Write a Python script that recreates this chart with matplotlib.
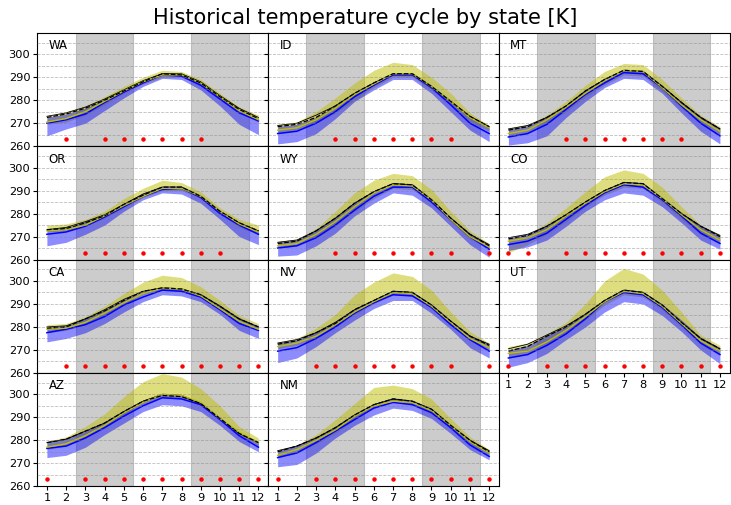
import numpy as np
import matplotlib.pyplot as plt
from matplotlib.ticker import MultipleLocator

states = ["WA", "ID", "MT", "OR", "WY", "CO", "CA", "NV", "UT", "AZ", "NM"]
months = np.arange(1, 13)

# observed cycle (black dashed) and second obs set (thin black)
obs = {
    "WA": [272.5, 274, 276.5, 280, 284, 288, 291.5, 291, 287.5, 281.5, 276, 272],
    "ID": [268.5, 269.5, 272.5, 277.5, 283, 287.5, 291.5, 291.5, 286, 279.5, 273, 268.5],
    "MT": [267, 268.5, 272.5, 277.5, 284, 289, 293, 292.5, 286, 279, 272.5, 267.5],
    "OR": [273, 273.5, 276, 279, 284, 288, 291.5, 291.5, 287.5, 281, 276, 272.5],
    "WY": [267, 268, 272.5, 278, 284.5, 289.5, 293, 292.5, 286, 278, 271, 266],
    "CO": [269, 270.5, 274.5, 279.5, 285, 290, 293.5, 293, 286.5, 280, 274.5, 270],
    "CA": [279.5, 280, 283.5, 287, 291.5, 295.5, 297, 296.5, 294, 289, 283.5, 280],
    "NV": [272.5, 274, 277.5, 281.5, 287.5, 291.5, 295.5, 295, 289.5, 282.5, 276, 272],
    "UT": [269.5, 271.5, 276, 280, 285.5, 291.5, 296, 295, 289.5, 282, 275, 270.5],
    "AZ": [279, 280.5, 284, 287.5, 292.5, 297, 299.5, 299, 296, 289.5, 283, 279],
    "NM": [275, 277.5, 281, 285.5, 291, 295.5, 298, 297, 293.5, 286.5, 280, 275],
}
obs2 = {
    "WA": [273, 274.5, 277, 280.5, 284.5, 288.5, 291.5, 291.5, 288, 282, 276.5, 272.5],
    "ID": [269, 270, 273.5, 277.5, 283, 287.5, 291.5, 291.5, 286, 279.5, 273, 268.5],
    "MT": [267.5, 269, 272.5, 277.5, 284, 289, 293, 292.5, 286, 279, 272.5, 267.5],
    "OR": [273, 274, 276.5, 279.5, 284, 288.5, 291.5, 291.5, 287.5, 281, 276, 272.5],
    "WY": [267.5, 268.5, 272.5, 278, 284.5, 289.5, 293, 292.5, 286, 278, 271, 266.5],
    "CO": [269.5, 271, 274.5, 279.5, 285, 290, 293.5, 293, 286.5, 280, 274.5, 270.5],
    "CA": [280, 280.5, 283.5, 287.5, 292, 295.5, 297, 296.5, 294, 289, 283.5, 280],
    "NV": [273, 274.5, 277.5, 282, 287.5, 291.5, 295.5, 295, 289.5, 282.5, 276, 272.5],
    "UT": [270.5, 272.5, 276.5, 280.5, 285.5, 291.5, 296, 295, 289.5, 282, 275, 270.5],
    "AZ": [279, 280.5, 284, 287.5, 292.5, 297, 300, 299.5, 296, 289.5, 283, 279],
    "NM": [275.5, 277.5, 281, 285.5, 291, 295.5, 298, 297, 293.5, 286.5, 280, 275.5],
}

# model A (blue): mean, low, high
blue = {
    "WA": [270, 271.5, 274, 279, 283.5, 287.5, 291, 290.5, 286.5, 280.5, 274.5, 271],
    "ID": [265.5, 266.5, 270, 275, 281.5, 286.5, 291, 291, 285.5, 278, 270, 265.5],
    "MT": [264, 265.5, 269.5, 276, 282.5, 287.5, 292, 291.5, 285.5, 277.5, 270, 264.5],
    "OR": [271, 272, 274.5, 278.5, 283, 287.5, 290.5, 291, 287, 280, 275, 271],
    "WY": [265, 266, 269.5, 275, 281.5, 287.5, 291.5, 291.5, 285, 277.5, 270, 264.5],
    "CO": [266.5, 268, 271.5, 277.5, 283.5, 289, 292.5, 291.5, 286, 279, 271.5, 267],
    "CA": [277.5, 279, 281, 284.5, 289.5, 293, 296, 295.5, 293, 287.5, 281.5, 278.5],
    "NV": [269.5, 271, 275, 280, 286, 290.5, 294, 293.5, 288.5, 281, 274.5, 269.5],
    "UT": [266.5, 268, 272, 277, 283.5, 291, 295, 294, 288.5, 281, 273, 268],
    "AZ": [276.5, 277.5, 281, 285.5, 290.5, 295, 298.5, 298, 295.5, 289, 282, 277],
    "NM": [272.5, 274.5, 279, 284, 289, 294, 296.5, 295.5, 292, 285.5, 278, 273],
}
blue_lo = {
    "WA": [264.5, 267.5, 270, 275.5, 281, 286, 289.5, 289, 284.5, 277.5, 269.5, 265],
    "ID": [261, 262, 265.5, 272, 279.5, 284.5, 289, 289, 283, 275, 267, 262],
    "MT": [260.5, 261.5, 264.5, 272.5, 279.5, 285.5, 289.5, 289, 283, 274.5, 266.5, 261],
    "OR": [266, 267.5, 271, 275, 281, 286, 289, 288.5, 284.5, 277.5, 270, 266.5],
    "WY": [261.5, 262, 266, 271.5, 279, 284.5, 289, 288, 282.5, 274.5, 266.5, 261],
    "CO": [264, 265.5, 268.5, 274.5, 281, 286, 289, 288, 283, 276, 268.5, 264.5],
    "CA": [273.5, 275, 277.5, 281.5, 286.5, 291, 294, 293.5, 291, 285.5, 278.5, 275],
    "NV": [264.5, 266.5, 271.5, 277.5, 283, 288, 291.5, 291.5, 286, 279, 271, 266.5],
    "UT": [262.5, 264.5, 268.5, 274.5, 280, 286.5, 291, 290, 285, 278, 270, 264],
    "AZ": [272.5, 273.5, 277, 282.5, 287.5, 292.5, 295.5, 295, 292.5, 286.5, 279.5, 275],
    "NM": [268.5, 269.5, 274.5, 281, 286.5, 291, 294, 293, 289.5, 283, 276, 271.5],
}
blue_hi = {
    "WA": [272.5, 274, 276.5, 280.5, 284.5, 288.5, 292, 291.5, 288, 282, 276, 272],
    "ID": [268.5, 269.5, 272.5, 277.5, 283, 288, 292, 292, 286.5, 280, 273, 268.5],
    "MT": [267.5, 269, 273, 278, 284.5, 289.5, 293.5, 293, 286.5, 279.5, 273, 268],
    "OR": [273, 274, 276.5, 279.5, 284.5, 289, 292, 292, 288, 281.5, 276, 272.5],
    "WY": [267.5, 268.5, 273, 278.5, 285, 290, 293.5, 293, 286.5, 278.5, 271.5, 266.5],
    "CO": [269.5, 271, 275, 280, 285.5, 290.5, 294, 293.5, 287, 280.5, 275, 270.5],
    "CA": [280, 280.5, 284, 287.5, 292, 295.5, 297.5, 297, 294.5, 289.5, 284, 280.5],
    "NV": [273, 274.5, 278, 282.5, 288, 292, 296, 295.5, 290, 283, 276.5, 272.5],
    "UT": [270, 272, 276.5, 280.5, 286, 292, 296.5, 295.5, 290, 283, 275.5, 271],
    "AZ": [279, 281, 284, 288, 293, 297.5, 300.5, 300, 296.5, 290, 283.5, 279.5],
    "NM": [275.5, 278, 281.5, 286, 291.5, 296, 298.5, 297.5, 294, 287, 280.5, 275.5],
}

# model B (yellow): mean, low, high
yel = {
    "WA": [270.5, 272, 275, 279.5, 284, 288, 291, 291, 287.5, 281.5, 275.5, 271.5],
    "ID": [267, 268, 271.5, 276.5, 282.5, 287, 291.5, 291.5, 286, 279.5, 272.5, 268],
    "MT": [265.5, 267, 271.5, 277, 283, 288.5, 293, 292.5, 285.5, 278, 271.5, 266.5],
    "OR": [272.5, 273, 275, 279, 283.5, 287.5, 291, 291, 287.5, 281, 275.5, 272],
    "WY": [266, 267, 271, 276.5, 283, 289, 292.5, 292, 286, 277.5, 270, 265.5],
    "CO": [268, 269.5, 273, 279, 284.5, 289.5, 293, 292.5, 286.5, 279.5, 273, 268.5],
    "CA": [279, 279.5, 282, 286, 290.5, 294.5, 297, 296.5, 293.5, 288, 282.5, 279],
    "NV": [271.5, 273, 276, 281, 286.5, 291, 295, 294.5, 289, 282, 275, 271],
    "UT": [268.5, 269.5, 273.5, 278.5, 284.5, 291, 295.5, 294.5, 289, 281.5, 274, 269.5],
    "AZ": [277, 278.5, 282, 286.5, 292, 296.5, 300, 299.5, 296.5, 289.5, 283.5, 279],
    "NM": [273.5, 276, 280, 284.5, 290.5, 295, 297, 296.5, 293, 286.5, 279.5, 274.5],
}
yel_lo = {
    "WA": [269.5, 270.5, 273.5, 278, 283, 287, 290, 290, 286.5, 280.5, 274.5, 270.5],
    "ID": [265.5, 267, 270, 274.5, 280, 285.5, 290, 290, 284.5, 278, 270.5, 266.5],
    "MT": [264.5, 266, 270, 275, 281.5, 286.5, 291, 290.5, 284, 276.5, 270, 265],
    "OR": [272, 272.5, 274.5, 278, 282.5, 287, 290, 290, 286.5, 280, 274, 271],
    "WY": [265, 266, 269.5, 274.5, 281, 286.5, 291, 290.5, 284.5, 276.5, 269, 264.5],
    "CO": [263, 266.5, 271, 276.5, 283, 288, 291.5, 291, 285, 277.5, 271, 267],
    "CA": [277.5, 278.5, 281, 285, 289.5, 294, 296, 295.5, 293, 287.5, 281.5, 278.5],
    "NV": [270.5, 272, 275, 280, 285.5, 290, 294, 293.5, 288, 281, 274, 270],
    "UT": [267, 268, 272, 277, 283, 289.5, 294, 293, 287.5, 280, 272.5, 268],
    "AZ": [276, 277.5, 281, 285.5, 290.5, 295.5, 298.5, 298, 295.5, 289, 282.5, 277.5],
    "NM": [272.5, 274.5, 278.5, 283, 289, 294, 296.5, 295.5, 291.5, 285.5, 278.5, 273.5],
}
yel_hi = {
    "WA": [273, 275, 277.5, 281.5, 286, 290, 293, 292.5, 289, 283, 277, 273.5],
    "ID": [269.5, 270.5, 275, 281, 287.5, 293, 296.5, 295.5, 290, 283, 274.5, 269],
    "MT": [268, 269.5, 273.5, 279.5, 286.5, 292.5, 296, 295.5, 289, 281, 273.5, 268.5],
    "OR": [275, 275.5, 277.5, 281, 286.5, 291, 294.5, 293.5, 289.5, 282.5, 277.5, 275],
    "WY": [268, 269, 273.5, 281, 289, 294.5, 297.5, 296.5, 290.5, 281, 272.5, 267],
    "CO": [269.5, 271, 276, 282.5, 289.5, 296, 299, 297.5, 291.5, 283, 275, 271],
    "CA": [281, 281.5, 284.5, 289, 294.5, 299.5, 302.5, 301.5, 297.5, 291.5, 285, 281.5],
    "NV": [273.5, 275, 279.5, 285.5, 294, 299.5, 303.5, 302, 296, 286.5, 278, 273],
    "UT": [271.5, 273, 277, 282, 290, 300, 305.5, 303, 296, 286.5, 276.5, 272],
    "AZ": [279.5, 281.5, 286, 291.5, 299, 305.5, 309, 307.5, 302.5, 295, 286, 281],
    "NM": [275.5, 278, 282.5, 289, 296, 303, 304, 302.5, 298, 289.5, 281.5, 276],
}

# months flagged with a red dot
flagged = {
    "WA": [2, 4, 5, 6, 7, 8, 9],
    "ID": [4, 5, 6, 7, 8, 9, 10],
    "MT": [4, 5, 6, 7, 8, 9, 10],
    "OR": [3, 4, 5, 6, 7, 8, 9, 10],
    "WY": [4, 5, 6, 7, 8, 9, 10, 12],
    "CO": [1, 2, 4, 5, 6, 7, 8, 9, 10, 11, 12],
    "CA": [2, 3, 4, 5, 6, 7, 8, 9, 10, 11, 12],
    "NV": [3, 4, 5, 6, 7, 8, 9, 10, 12],
    "UT": [1, 3, 4, 5, 6, 7, 8, 9, 10, 11, 12],
    "AZ": [1, 3, 4, 5, 6, 7, 8, 9, 10, 11, 12],
    "NM": [1, 3, 4, 5, 6, 7, 8, 9, 10, 11, 12],
}

fig, axes = plt.subplots(4, 3, figsize=(7.31, 5.05), dpi=100, sharex=True, sharey=True)
fig.subplots_adjust(left=0.051, right=0.998, top=0.935, bottom=0.037, hspace=0, wspace=0)

for ax, st in zip(axes.flat, states):
    ax.axvspan(2.5, 5.5, color="gray", alpha=0.4, lw=0.8)
    ax.axvspan(8.5, 11.5, color="gray", alpha=0.4, lw=0.8)
    ax.fill_between(months, yel_lo[st], yel_hi[st], color="y", alpha=0.5, lw=0)
    ax.fill_between(months, blue_lo[st], blue_hi[st], color="blue", alpha=0.45, lw=0)
    ax.plot(months, obs2[st], color="k", lw=0.6)
    ax.plot(months, blue[st], color="blue", lw=1.1)
    ax.plot(months, yel[st], color="y", lw=1.0)
    ax.plot(months, obs[st], color="k", lw=0.9, ls="--")
    ax.plot(flagged[st], [263] * len(flagged[st]), "o", color="red", ms=2.2)
    ax.text(0.05, 0.885, st, transform=ax.transAxes, va="center", fontsize=8.5)
    ax.yaxis.set_major_locator(MultipleLocator(10))
    ax.yaxis.set_minor_locator(MultipleLocator(5))
    ax.grid(axis="y", which="both", ls="--", color="gray", alpha=0.5, lw=0.6)
    ax.set_axisbelow(False)
    ax.tick_params(labelsize=8.2, length=3, pad=2)
    ax.tick_params(which="minor", length=0)

axes[3, 2].remove()
axes[2, 2].tick_params(labelbottom=True)
axes[0, 0].set_xlim(0.5, 12.5)
axes[0, 0].set_ylim(260, 309.3)
axes[0, 0].set_xticks(months)
axes[0, 0].set_yticks([260, 270, 280, 290, 300])

fig.suptitle("Historical temperature cycle by state [K]", fontsize=15, y=0.985)
plt.savefig("out.png")
